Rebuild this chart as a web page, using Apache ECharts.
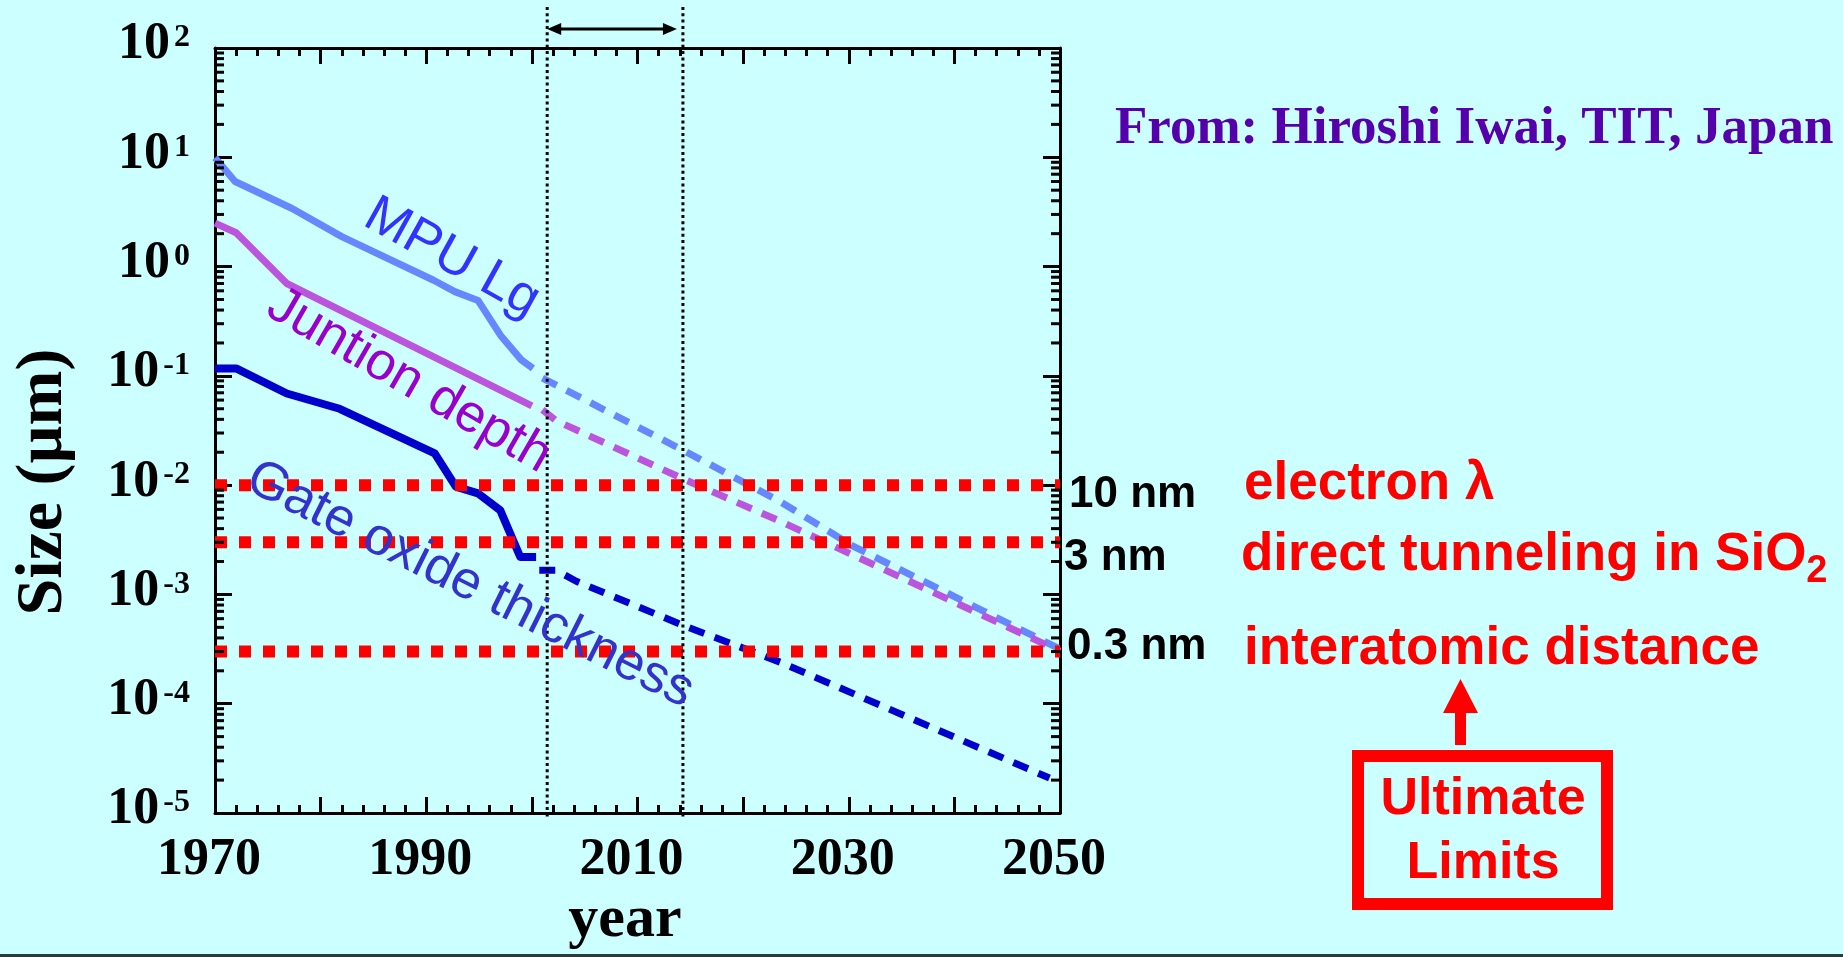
<!DOCTYPE html>
<html>
<head>
<meta charset="utf-8">
<title>Size scaling of MOS devices</title>
<script src="https://cdn.jsdelivr.net/npm/echarts@6/dist/echarts.min.js"></script>
<style>
  html, body { margin: 0; padding: 0; background: #ccffff; }
  #chart { width: 1843px; height: 957px; }
</style>
</head>
<body>
<div id="chart"></div>
<script>
// Axis ranges
const xMin = 1970, xMax = 2050;
const yMin = 1e-5, yMax = 100;

// MPU gate length (µm): historical and projected
const mpuYears = [1970, 1971.9, 1977.3, 1982.0, 1990.7, 1992.7, 1994.9, 1997.1, 1999.0, 2000.1];
const mpuSize = [9.9, 6.0, 3.4, 1.88, 0.75, 0.59, 0.49, 0.23, 0.14, 0.117];
const mpuProjYears = [2001.0, 2014.5, 2023.5, 2030.4, 2040, 2050];
const mpuProjSize = [0.0955, 0.0204, 0.00708, 0.00277, 0.000955, 0.000316];

// Junction depth (µm)
const junctionYears = [1970, 1972.0, 1976.8, 2000.0];
const junctionSize = [2.5, 2.04, 0.70, 0.053];
const junctionProjYears = [2001.0, 2002.3, 2014.5, 2023.5, 2030.4, 2050];
const junctionProjSize = [0.049, 0.0389, 0.0112, 0.00468, 0.00229, 0.000302];

// Gate oxide thickness (µm)
const gateYears = [1970, 1972.0, 1976.8, 1981.8, 1990.8, 1992.8, 1994.9, 1997.0, 1998.9, 2000.4];
const gateSize = [0.117, 0.117, 0.069, 0.050, 0.0195, 0.0097, 0.0084, 0.0059, 0.0022, 0.0022];
const gateProjYears = [2000.7, 2002.3, 2004.2, 2014.5, 2023.5, 2049.0];
const gateProjSize = [0.00166, 0.00166, 0.00132, 0.000513, 0.00024, 0.0000209];

// Physical limits (µm) and their captions
const limitValues = [0.01, 0.003, 0.0003];
const limitSizeLabels = ['10 nm', '3 nm', '0.3 nm'];
const limitNames = ['electron λ', 'direct tunneling in SiO{sub|2}', 'interatomic distance'];

// Highlighted period (years)
const windowYears = [2001.45, 2014.3];

const SERIF = '"Liberation Serif", "Times New Roman", serif';
const SANS = '"Liberation Sans", Arial, sans-serif';

const zip = (xs, ys) => xs.map((x, i) => [x, ys[i]]);

// log minor tick values 2..9 x 10^k inside the y range
const minorTickVals = [];
for (let k = Math.round(Math.log10(yMin)); k < Math.round(Math.log10(yMax)); k++) {
  for (let m = 2; m <= 9; m++) minorTickVals.push(m * Math.pow(10, k));
}

const chart = echarts.init(document.getElementById('chart'), null, { renderer: 'canvas' });

const frameLine = { show: true, lineStyle: { color: '#000', width: 3 } };

function xAxisCfg(pos, showLabels) {
  return {
    type: 'value', position: pos, min: xMin, max: xMax, interval: 10,
    axisLine: Object.assign({ onZero: false }, frameLine),
    axisTick: { show: true, inside: true, length: 16, lineStyle: { color: '#000', width: 3 } },
    minorTick: { show: true, splitNumber: 5, length: 8, lineStyle: { color: '#000', width: 3 } },
    splitLine: { show: false },
    axisLabel: {
      show: showLabels, margin: 22, color: '#000',
      fontFamily: SERIF, fontWeight: 'bold', fontSize: 52,
      padding: [0, 12, 0, 0],
      formatter: v => ((v - xMin) % 20 === 0 ? String(v) : '')
    }
  };
}

function yAxisCfg(pos, showLabels) {
  return {
    type: 'log', logBase: 10, position: pos, min: yMin, max: yMax,
    axisLine: Object.assign({ onZero: false }, frameLine),
    axisTick: { show: true, inside: true, length: 17, lineStyle: { color: '#000', width: 3 } },
    splitLine: { show: false },
    axisLabel: {
      show: showLabels, margin: 25, color: '#000',
      formatter: v => '{b|10}{e|' + Math.round(Math.log10(v)) + '}',
      rich: {
        b: { fontFamily: SERIF, fontWeight: 'bold', fontSize: 52, color: '#000', padding: [0, 0, 6, 0] },
        e: { fontFamily: SERIF, fontWeight: 'bold', fontSize: 32, color: '#000', padding: [0, 0, 20, 4] }
      }
    }
  };
}

function trend(name, xs, ys, color, width, dashed) {
  return {
    name, type: 'line', data: zip(xs, ys), showSymbol: false, symbol: 'none',
    clip: false, z: 3,
    lineStyle: { color, width, type: dashed ? [16, 11] : 'solid', cap: 'butt', join: 'round' }
  };
}

const series = [
  trend('MPU Lg', mpuYears, mpuSize, '#6688ff', 7, false),
  trend('MPU Lg (projected)', mpuProjYears, mpuProjSize, '#6688ff', 7, true),
  trend('Junction depth', junctionYears, junctionSize, '#bb55dd', 7, false),
  trend('Junction depth (projected)', junctionProjYears, junctionProjSize, '#bb55dd', 7, true),
  trend('Gate oxide', gateYears, gateSize, '#0000cc', 8, false),
  trend('Gate oxide (projected)', gateProjYears, gateProjSize, '#0000cc', 7, true)
];

// red dotted limit lines
limitValues.forEach(v => {
  series.push({
    type: 'line', data: [[xMin, v], [xMax, v]], showSymbol: false, symbol: 'none', z: 4,
    lineStyle: { color: '#ff0000', width: 12, type: [12, 12], cap: 'butt' }
  });
});

// minor log ticks on left and right frame edges
series.push({
  type: 'custom', clip: false, z: 5,
  data: minorTickVals.map(v => [xMin, v]),
  renderItem(params, api) {
    const v = api.value(1);
    const l = api.coord([xMin, v]);
    const r = api.coord([xMax, v]);
    const st = { stroke: '#000', lineWidth: 3 };
    return {
      type: 'group', children: [
        { type: 'line', shape: { x1: l[0], y1: l[1], x2: l[0] + 9, y2: l[1] }, style: st },
        { type: 'line', shape: { x1: r[0] - 9, y1: r[1], x2: r[0], y2: r[1] }, style: st }
      ]
    };
  }
});

// highlighted period: dotted verticals and double arrow
series.push({
  type: 'custom', clip: false, z: 10,
  data: [windowYears],
  renderItem(params, api) {
    const top = api.coord([xMin, yMax])[1];
    const bottom = api.coord([xMin, yMin])[1];
    const xa = api.coord([api.value(0), yMax])[0];
    const xb = api.coord([api.value(1), yMax])[0];
    const dotted = { stroke: '#000', lineWidth: 3, lineDash: [3, 3.3] };
    const ay = top - 19;
    const tipB = xb - 6;
    return {
      type: 'group', children: [
        { type: 'line', shape: { x1: xa, y1: top - 41, x2: xa, y2: bottom + 5 }, style: dotted },
        { type: 'line', shape: { x1: xb, y1: top - 41, x2: xb, y2: bottom + 5 }, style: dotted },
        { type: 'line', shape: { x1: xa + 8, y1: ay, x2: tipB - 8, y2: ay }, style: { stroke: '#000', lineWidth: 3 } },
        { type: 'polygon', shape: { points: [[xa, ay], [xa + 14, ay - 6], [xa + 14, ay + 6]] }, style: { fill: '#000' } },
        { type: 'polygon', shape: { points: [[tipB, ay], [tipB - 14, ay - 6], [tipB - 14, ay + 6]] }, style: { fill: '#000' } }
      ]
    };
  }
});

const deg = a => a * Math.PI / 180;

const sansBold = s => ({ fontFamily: SANS, fontWeight: 'bold', fontSize: s });
const serifBold = s => ({ fontFamily: SERIF, fontWeight: 'bold', fontSize: s });
const sans = s => ({ fontFamily: SANS, fontSize: s });

function label(text, x, y, font, fill, align, rotation, rich) {
  const el = {
    type: 'text', x, y, z: 20,
    style: Object.assign({ text, fill, align: align || 'left', verticalAlign: 'middle' }, font)
  };
  if (rotation) el.rotation = rotation;
  if (rich) el.style.rich = rich;
  return el;
}

const limitLabelX = [1069, 1064, 1067];
const limitLabelY = [495, 558, 647];
const limitNameX = [1244, 1241, 1244];
const limitNameY = [484, 555, 649];
const subRich = { sub: { fontFamily: SANS, fontWeight: 'bold', fontSize: 38, fill: '#ff0000', padding: [34, 0, 0, 0] } };

const graphic = [
  // axis titles
  label('Size (µm)', 44, 482, serifBold(66), '#000', 'center', Math.PI / 2),
  label('year', 625, 920, serifBold(60), '#000', 'center'),
  // source
  label('From: Hiroshi Iwai, TIT, Japan', 1115, 129, serifBold(53), '#5500aa'),
  // inline curve labels
  label('MPU Lg', 452, 258, sans(53), '#3333ff', 'center', deg(-29)),
  label('Juntion depth', 409, 381, sans(53), '#9900cc', 'center', deg(-30)),
  label('Gate oxide thickness', 470, 585, sans(53), '#3333cc', 'center', deg(-26.5)),
  // limit sizes and names
  ...limitSizeLabels.map((t, i) => label(t, limitLabelX[i], limitLabelY[i], sansBold(44), '#000')),
  ...limitNames.map((t, i) => label(t, limitNameX[i], limitNameY[i], sansBold(53), '#ff0000', 'left', 0, subRich)),
  // up arrow
  { type: 'rect', shape: { x: 1455, y: 711, width: 11, height: 34 }, style: { fill: '#ff0000' }, z: 20 },
  { type: 'polygon', shape: { points: [[1460.5, 679], [1443, 713], [1478, 713]] }, style: { fill: '#ff0000' }, z: 20 },
  // boxed caption
  { type: 'rect', shape: { x: 1358, y: 756, width: 249, height: 148 }, style: { fill: 'none', stroke: '#ff0000', lineWidth: 12 }, z: 20 },
  label('Ultimate', 1483, 800, sansBold(52), '#ff0000', 'center'),
  label('Limits', 1483, 864, sansBold(52), '#ff0000', 'center'),
  // bottom border
  { type: 'rect', shape: { x: 0, y: 954, width: 1843, height: 3 }, style: { fill: '#2b3b3b' }, z: 20 }
];

chart.setOption({
  backgroundColor: '#ccffff',
  animation: false,
  grid: { left: 215, right: 783, top: 48, bottom: 144 },
  xAxis: [xAxisCfg('bottom', true), xAxisCfg('top', false)],
  yAxis: [yAxisCfg('left', true), yAxisCfg('right', false)],
  series,
  graphic
});
</script>
</body>
</html>
